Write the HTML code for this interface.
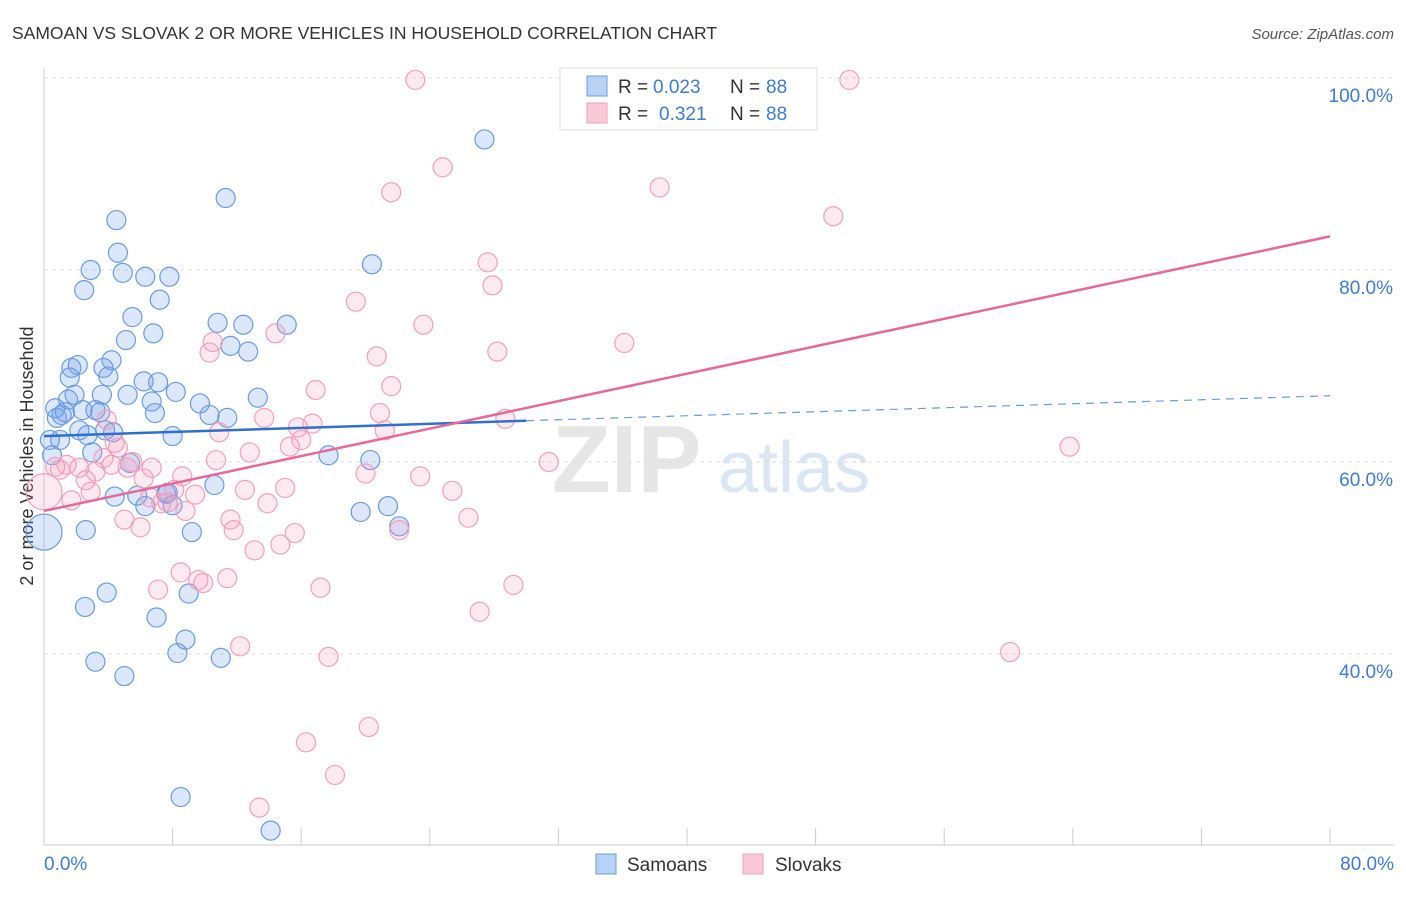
<!DOCTYPE html>
<html><head><meta charset="utf-8"><style>
body{margin:0;background:#fff;font-family:"Liberation Sans",sans-serif;}
svg text{font-family:"Liberation Sans",sans-serif;}
</style></head><body>
<svg width="1406" height="892" viewBox="0 0 1406 892" id="c">
<text x="12" y="39" font-size="17.5" fill="#333">SAMOAN VS SLOVAK 2 OR MORE VEHICLES IN HOUSEHOLD CORRELATION CHART</text>
<text x="1394" y="39" font-size="15" fill="#555" text-anchor="end" font-style="italic">Source: ZipAtlas.com</text>
<text transform="translate(33,456) rotate(-90)" font-size="18" fill="#333" text-anchor="middle">2 or more Vehicles in Household</text>
<g><text x="552" y="492" font-size="96" fill="#e6e6e6" font-family="Liberation Serif" font-weight="bold">ZIP</text><text x="718" y="492" font-size="72" fill="#dbe6f5">atlas</text></g>
<g id="grid"></g><g id="marks"></g><g id="trends"></g>
<g>
<rect x="560" y="68" width="257" height="62" fill="#fff" stroke="#ddd"/>
<rect x="587" y="76" width="20" height="20" fill="#b8d2f5" stroke="#6a9be0"/>
<text x="618" y="93" font-size="19" fill="#333">R = </text><text x="653" y="93" font-size="19" fill="#3d7bd6">0.023</text>
<text x="730" y="93" font-size="19" fill="#333">N = </text><text x="766" y="93" font-size="19" fill="#3d7bd6">88</text>
<rect x="587" y="103" width="20" height="20" fill="#f9c9d8" stroke="#f0a0bc"/>
<text x="618" y="120" font-size="19" fill="#333">R = </text><text x="659" y="120" font-size="19" fill="#3d7bd6">0.321</text>
<text x="730" y="120" font-size="19" fill="#333">N = </text><text x="766" y="120" font-size="19" fill="#3d7bd6">88</text>
</g>
<g>
<rect x="596" y="854" width="20" height="20" fill="#b8d2f5" stroke="#6a9be0"/>
<text x="627" y="871" font-size="19" fill="#333">Samoans</text>
<rect x="743" y="854" width="20" height="20" fill="#f9c9d8" stroke="#f0a0bc"/>
<text x="775" y="871" font-size="19" fill="#333">Slovaks</text>
</g>
</svg>
<script>
const yTicks=[40,60,80,100];
const xTickLabels=["0.0%","80.0%"];
const blueX=[0,0.37,0.5,0.7,0.8,1.0,1.1,1.3,1.5,1.6,1.7,1.9,2.1,2.2,2.4,2.5,2.55,2.6,2.7,2.9,3.0,3.2,3.2,3.5,3.6,3.7,3.8,3.9,4.0,4.2,4.3,4.4,4.5,4.6,4.9,5.0,5.1,5.2,5.35,5.5,5.8,6.2,6.3,6.3,6.7,6.8,6.9,7.0,7.1,7.2,7.6,7.7,7.8,8.0,8.0,8.2,8.3,8.5,8.8,9.0,9.2,9.7,10.3,10.6,10.8,11.0,11.3,11.4,11.6,12.4,12.7,13.3,14.1,15.1,17.7,19.7,20.3,20.4,21.4,22.1,27.4];
const blueY=[52.7,62.3,60.7,65.6,64.6,62.3,64.9,65.2,66.5,68.8,69.8,67.0,70.1,63.3,65.4,77.9,44.9,52.9,62.8,80.0,61.0,65.4,39.2,65.2,67.0,69.8,63.3,46.4,68.9,70.6,63.1,56.4,85.2,81.8,79.7,37.7,72.7,67.0,59.9,75.1,56.5,68.4,79.3,55.4,66.3,73.4,65.1,43.8,68.3,76.9,56.7,56.8,79.3,55.5,62.7,67.3,40.1,25.1,41.5,46.3,52.7,66.1,64.9,57.6,74.5,39.6,87.5,64.6,72.1,74.3,71.5,66.7,21.6,74.3,60.7,54.8,60.2,80.6,55.4,53.3,93.6];
const pinkX=[0,0.7,1.0,1.4,1.7,2.2,2.6,2.9,3.2,3.7,3.9,4.2,4.4,4.6,5.0,5.2,5.5,6.0,6.2,6.6,6.7,7.1,7.3,7.7,8.1,8.5,8.6,8.8,9.4,9.6,9.9,10.3,10.5,10.7,10.9,11.4,11.6,11.8,12.2,12.5,12.8,13.1,13.7,13.9,14.4,14.7,15.0,15.3,15.6,15.8,16.0,16.3,16.7,16.9,17.2,17.7,18.1,19.4,20.0,20.2,20.7,20.9,21.2,21.6,21.6,22.1,23.1,23.4,23.6,24.8,25.4,26.4,27.1,27.6,27.9,28.2,28.7,29.2,31.4,36.1,37.9,38.3,49.1,50.1,60.1,63.8,13.4];
const pinkY=[56.9,59.5,59.2,59.7,56.0,59.4,58.1,56.9,59.0,60.4,64.4,59.7,62.0,61.5,54.0,59.4,60.0,53.2,58.3,56.3,59.4,46.7,55.7,55.8,57.1,48.5,58.5,54.9,56.6,47.7,47.4,71.4,72.5,60.2,63.1,47.9,54.0,52.9,40.8,57.1,61.0,50.8,64.6,55.7,73.4,51.4,57.3,61.6,52.6,63.6,62.3,30.8,64.0,67.5,46.9,39.7,27.4,76.7,58.8,32.4,71.0,65.1,63.3,67.9,88.1,52.9,99.8,58.5,74.3,90.7,57.0,54.2,44.4,80.8,78.4,71.5,64.5,47.2,60.0,72.4,99.8,88.6,85.6,99.8,40.2,61.6,24.0];
const blueTrendX=[0,30,80], blueTrendY=[62.7,64.3,66.9];
const pinkTrendX=[0,80], pinkTrendY=[54.9,83.5];
const NS="http://www.w3.org/2000/svg";
const sx=v=>44+v*16.075, sy=v=>462-(v-60)*9.6;
function mk(tag,attrs,parent){const e=document.createElementNS(NS,tag);for(const k in attrs)e.setAttribute(k,attrs[k]);parent.appendChild(e);return e;}
const grid=document.getElementById('grid');
yTicks.forEach(t=>{
 const l=mk('line',{x1:44,x2:1394,y1:sy(t),y2:sy(t),stroke:'#ddd','stroke-dasharray':'4,4'},grid);
 
 
 const tx=mk('text',{x:1393,y:sy(t)+24,'font-size':19,fill:'#3d7bd6','text-anchor':'end'},grid);tx.textContent=t.toFixed(1)+'%';
 
 
});
const ax=mk('line',{x1:44,x2:44,y1:68,y2:845,stroke:'#ccc'},grid);


const bx=mk('line',{x1:44,x2:1394,y1:845,y2:845,stroke:'#ccc'},grid);


for(let i=0;i<=10;i++){const t=mk('line',{x1:sx(i*8),x2:sx(i*8),y1:828,y2:845,stroke:'#ccc'},grid);
 
 }
[[0,'start',44],[1,'end',1394]].forEach(([i,a,x])=>{const t=mk('text',{x:x,y:870,'font-size':19,fill:'#3d7bd6','text-anchor':a},grid);t.textContent=xTickLabels[i];
 
 });
const marks=document.getElementById('marks');
function pts(X,Y,fill,stroke,name){X.forEach((x,i)=>{const c=mk('circle',{cx:sx(x),cy:sy(Y[i]),r:x===0&&i===0?18:9.5,fill:fill,stroke:stroke,'stroke-width':1.2},marks);
 
 });}
pts(blueX,blueY,'rgba(110,160,235,0.25)','#6a9be0','samoan-point');
pts(pinkX,pinkY,'rgba(245,150,185,0.2)','#f0a0bc','slovak-point');
const tr=document.getElementById('trends');
const b1=mk('line',{x1:sx(blueTrendX[0]),y1:sy(blueTrendY[0]),x2:sx(blueTrendX[1]),y2:sy(blueTrendY[1]),stroke:'#2f6fd0','stroke-width':2.5},tr);


const b2=mk('line',{x1:sx(blueTrendX[1]),y1:sy(blueTrendY[1]),x2:sx(blueTrendX[2]),y2:sy(blueTrendY[2]),stroke:'#6a9be0','stroke-width':1.2,'stroke-dasharray':'8,6'},tr);


const p1=mk('line',{x1:sx(pinkTrendX[0]),y1:sy(pinkTrendY[0]),x2:sx(pinkTrendX[1]),y2:sy(pinkTrendY[1]),stroke:'#e8689a','stroke-width':2.5},tr);


</script>
</body></html>
